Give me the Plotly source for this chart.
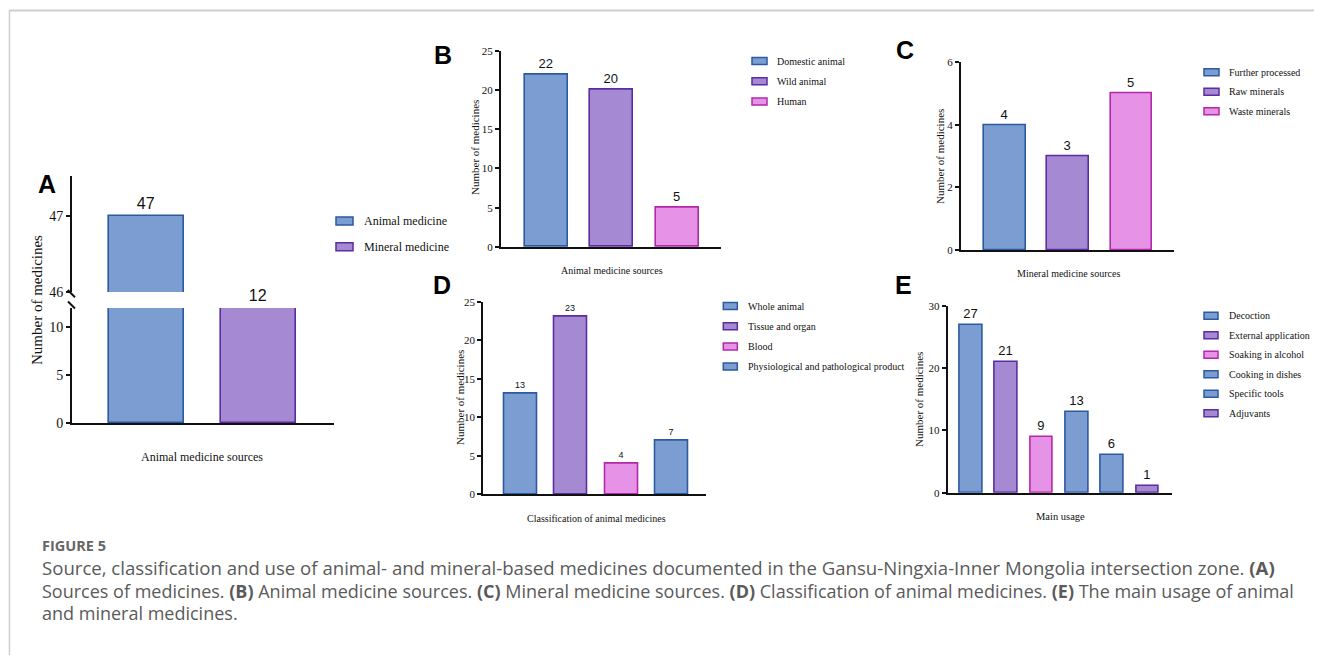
import plotly.graph_objects as go

# Page body has an 8px margin; figure sized so the page fits the window exactly
OFF = 8
W, H = 1322 - 2 * OFF, 663 - 2 * OFF

# ---------------- data ----------------
a_categories = ["Animal medicine", "Mineral medicine"]
a_values = [47, 12]

b_categories = ["Domestic animal", "Wild animal", "Human"]
b_values = [22, 20, 5]

c_categories = ["Further processed", "Raw minerals", "Waste minerals"]
c_values = [4, 3, 5]

d_categories = ["Whole animal", "Tissue and organ", "Blood",
                "Physiological and pathological product"]
d_values = [13, 23, 4, 7]

e_categories = ["Decoction", "External application", "Soaking in alcohol",
                "Cooking in dishes", "Specific tools", "Adjuvants"]
e_values = [27, 21, 9, 13, 6, 1]

# ---------------- styles ----------------
BLUE = ("#7b9dd2", "#2c5aa0")
PURP = ("#a589d3", "#5b2da0")
PINK = ("#e692e7", "#b32aa8")

a_colors = [BLUE, PURP]
b_colors = [BLUE, PURP, PINK]
c_colors = [BLUE, PURP, PINK]
d_colors = [BLUE, PURP, PINK, BLUE]
e_colors = [BLUE, PURP, PINK, BLUE, BLUE, PURP]

SERIF = "Liberation Serif"
SANS = "Liberation Sans"


def fx(px):
    return (px - OFF) / W


def fy(py):
    return 1 - (py - OFF) / H


fig = go.Figure()


def add_bars(values, colors, xa, ya, width, text, tsize):
    fig.add_trace(go.Bar(
        x=list(range(len(values))), y=values,
        width=width,
        marker=dict(color=[c[0] for c in colors],
                    line=dict(color=[c[1] for c in colors], width=1.6)),
        text=text, textposition="outside", cliponaxis=False,
        textfont=dict(family=SANS, size=tsize, color="#111"),
        xaxis=xa, yaxis=ya, showlegend=False, hoverinfo="skip"))


# Panel A (broken axis: lower + upper segment)
a_low_text = [str(v) if v <= 12 else "" for v in a_values]
a_up_text = [str(v) if v > 12 else "" for v in a_values]
add_bars(a_values, a_colors, "x", "y", 0.666, a_low_text, 16)
add_bars(a_values, a_colors, "x2", "y2", 0.666, a_up_text, 16)
# Panel B-E
add_bars(b_values, b_colors, "x3", "y3", 0.656, [str(v) for v in b_values], 13)
add_bars(c_values, c_colors, "x4", "y4", 0.66, [str(v) for v in c_values], 13)
add_bars(d_values, d_colors, "x5", "y5", 0.656, [str(v) for v in d_values], 9)
add_bars(e_values, e_colors, "x6", "y6", 0.64, [str(v) for v in e_values], 13)


def xax(x0, x1, rng, anchor, visible=True):
    return dict(domain=[fx(x0), fx(x1)], range=rng, anchor=anchor,
                showline=visible, linecolor="#111", linewidth=2,
                showticklabels=False, ticks="", showgrid=False,
                zeroline=False, visible=visible, fixedrange=True,
                automargin=False)


def yax(y0, y1, rng, anchor, dtick=None, tickvals=None, fsize=11):
    d = dict(domain=[fy(y0), fy(y1)], range=rng, anchor=anchor,
             showline=True, linecolor="#111", linewidth=2,
             ticks="outside", ticklen=4, tickwidth=1.5, tickcolor="#111",
             tickfont=dict(family=SERIF, size=fsize, color="#111"),
             showgrid=False, zeroline=False, fixedrange=True,
             automargin=False)
    if dtick is not None:
        d["dtick"] = dtick
        d["tick0"] = 0
    if tickvals is not None:
        d["tickvals"] = tickvals
    return d


layout = dict(
    template="none",
    width=W, height=H,
    margin=dict(l=0, r=0, t=0, b=0, pad=0, autoexpand=False),
    paper_bgcolor="white", plot_bgcolor="white", showlegend=False,
    bargap=0,
    xaxis=xax(72, 334, [-0.66, 1.666], "y"),
    yaxis=yax(423, 308, [0, 12.0], "x", tickvals=[0, 5, 10], fsize=14),
    xaxis2=xax(72, 334, [-0.66, 1.666], "y2", visible=False),
    yaxis2=yax(292, 176, [46, 47.52], "x2", tickvals=[46, 47], fsize=14),
    xaxis3=xax(501, 721, [-0.69, 2.67], "y3"),
    yaxis3=yax(247, 50.7, [0, 25], "x3", dtick=5),
    xaxis4=xax(961, 1174, [-0.69, 2.67], "y4"),
    yaxis4=yax(250, 62.3, [0, 6], "x4", dtick=2),
    xaxis5=xax(483.3, 706, [-0.745, 3.68], "y5"),
    yaxis5=yax(494.3, 301.7, [0, 25], "x5", dtick=5),
    xaxis6=xax(947.7, 1172.3, [-0.666, 5.70], "y6"),
    yaxis6=yax(492.7, 306, [0, 30], "x6", dtick=10),
)
fig.update_layout(**layout)

annotations = []
shapes = []


def text_at(px, py, txt, size, family=SERIF, color="#111", angle=0,
            xanchor="center", yanchor="middle"):
    annotations.append(dict(x=fx(px), y=fy(py), xref="paper", yref="paper",
                            text=txt, showarrow=False, textangle=angle,
                            xanchor=xanchor, yanchor=yanchor,
                            font=dict(family=family, size=size, color=color)))


def legend(categories, colors, x0, y0, step, rw, rh, tx, fsize):
    for i, (cat, col) in enumerate(zip(categories, colors)):
        yy = y0 + i * step
        shapes.append(dict(type="rect", xref="paper", yref="paper",
                           x0=fx(x0), x1=fx(x0 + rw),
                           y0=fy(yy + rh / 2), y1=fy(yy - rh / 2),
                           fillcolor=col[0], line=dict(color=col[1], width=1.5)))
        text_at(tx, yy, cat, fsize, xanchor="left")


# Panel letters
for letter, px, py in [("A", 47, 184), ("B", 443, 55), ("C", 905, 50),
                       ("D", 442, 285), ("E", 903, 285)]:
    text_at(px, py, "<b>%s</b>" % letter, 25, family=SANS, color="#000")

# Axis titles
text_at(202, 457, "Animal medicine sources", 12)
text_at(37, 300, "Number of medicines", 15, angle=-90)
text_at(612, 270, "Animal medicine sources", 10)
text_at(475, 148, "Number of medicines", 11, angle=-90)
text_at(1068, 273, "Mineral medicine sources", 10)
text_at(940, 157, "Number of medicines", 11, angle=-90)
text_at(596, 518, "Classification of animal medicines", 10)
text_at(460, 398, "Number of medicines", 11, angle=-90)
text_at(1060, 516, "Main usage", 10.5)
text_at(919, 400, "Number of medicines", 11, angle=-90)

# Legends
legend(a_categories, a_colors, 336, 221, 25.7, 17, 8, 362, 12)
legend(b_categories, b_colors, 752, 61, 20.3, 15, 7, 775, 10)
legend(c_categories, c_colors, 1204, 72.3, 19.5, 15, 7, 1227, 10)
legend(d_categories, d_colors, 723.3, 306, 20.2, 14, 7, 746, 10)
legend(e_categories, e_colors, 1204, 315.7, 19.5, 14, 7, 1227, 10)

# Axis break marks for panel A
for (x0, y0, x1, y1) in [(67.7, 290, 75, 297.3), (68, 301.5, 75, 308.5)]:
    shapes.append(dict(type="line", xref="paper", yref="paper",
                       x0=fx(x0), y0=fy(y0), x1=fx(x1), y1=fy(y1),
                       line=dict(color="#111", width=2)))

# Frame lines
shapes.append(dict(type="line", xref="paper", yref="paper",
                   x0=fx(9), y0=fy(10.5), x1=1, y1=fy(10.5),
                   line=dict(color="#cfcfcf", width=2)))
shapes.append(dict(type="line", xref="paper", yref="paper",
                   x0=fx(9.5), y0=fy(10), x1=fx(9.5), y1=0,
                   line=dict(color="#cfcfcf", width=1.5)))

# Caption
CAP = "Open Sans"
text_at(40, 545, "<b>FIGURE 5</b>", 14.5, family=CAP, color="#666", xanchor="left")
cap_lines = [
    "Source, classification and use of animal- and mineral-based medicines documented in the Gansu-Ningxia-Inner Mongolia intersection zone. <b>(A)</b>",
    "Sources of medicines. <b>(B)</b> Animal medicine sources. <b>(C)</b> Mineral medicine sources. <b>(D)</b> Classification of animal medicines. <b>(E)</b> The main usage of animal",
    "and mineral medicines.",
]
cap_sizes = [18.6, 18, 18]
cap_y = [567.5, 591, 613]
for line, sz, yy in zip(cap_lines, cap_sizes, cap_y):
    text_at(40, yy, line, sz, family=CAP, color="#5a5a5a", xanchor="left")

fig.update_layout(annotations=annotations, shapes=shapes)
fig.write_html("out.html")
